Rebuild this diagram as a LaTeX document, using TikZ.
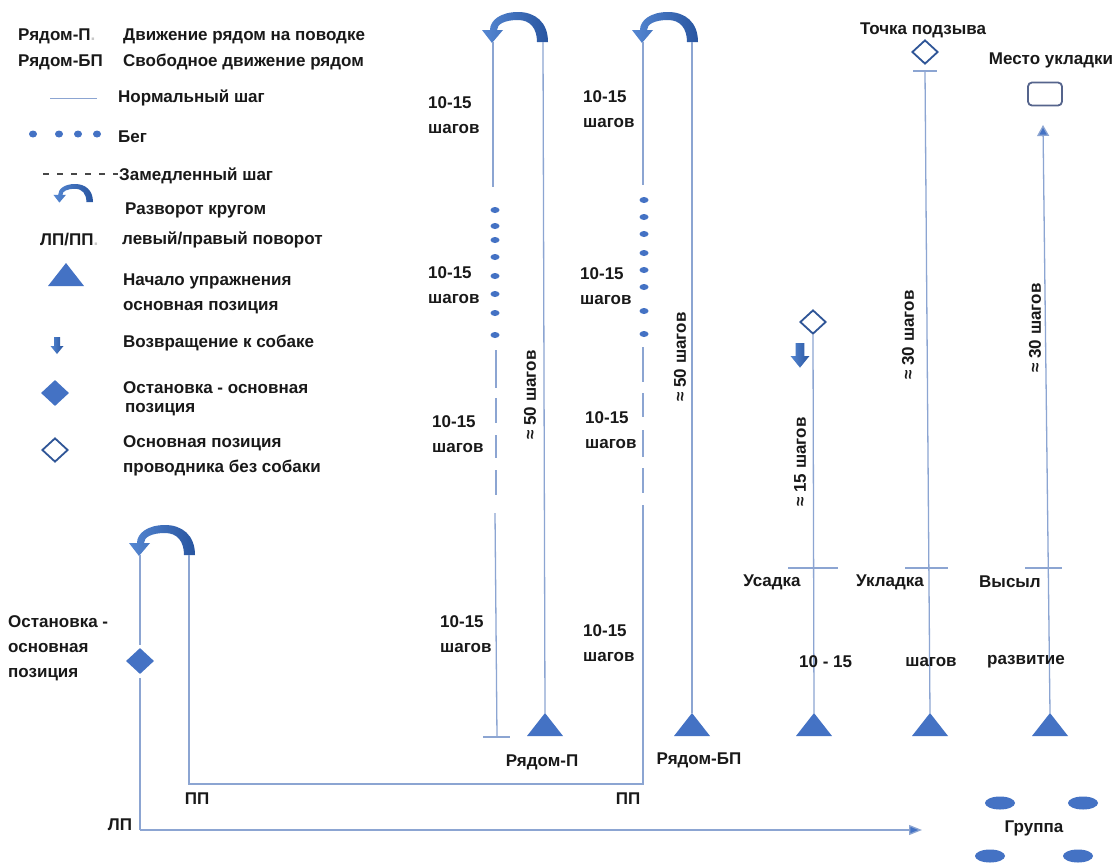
\documentclass[tikz,border=0pt]{standalone}
\usepackage{fontspec}
\setmainfont{Liberation Sans}
\usetikzlibrary{shapes.geometric,arrows.meta}
\definecolor{lineblue}{RGB}{140,165,210}
\definecolor{fillblue}{RGB}{68,114,196}
\definecolor{darkblue}{RGB}{47,85,151}
\definecolor{textcol}{RGB}{25,25,25}
\definecolor{boxcol}{RGB}{85,100,140}
\definecolor{faint}{RGB}{200,200,200}
\definecolor{shadeA}{RGB}{85,135,210}
\definecolor{shadeB}{RGB}{40,85,160}
\newcommand\mytri[1]{\fill[fillblue] (#1) -- ++(18,23) -- ++(-36,0) -- cycle;}
\begin{document}
\begin{tikzpicture}[x=1pt,y=-1pt,
  ln/.style={draw=lineblue,line width=1.3pt},
  txt/.style={font=\fontsize{17}{25}\selectfont\bfseries, text=textcol, inner sep=0pt, anchor=west, align=left},
  vtxt/.style={font=\fontsize{17}{20}\selectfont\bfseries, text=textcol, inner sep=0pt, rotate=90},
  ctxt/.style={font=\fontsize{17}{20}\selectfont\bfseries, text=textcol, inner sep=0pt},
  rundot/.style={ellipse, fill=fillblue, minimum width=9pt, minimum height=6pt, inner sep=0pt},
  fdiam/.style={diamond, fill=fillblue, minimum width=28pt, minimum height=26pt, inner sep=0pt},
  odiam/.style={diamond, draw=darkblue, fill=white, line width=1.8pt, minimum width=26pt, minimum height=24pt, inner sep=0pt},
  grp/.style={ellipse, fill=fillblue, minimum width=30pt, minimum height=13pt, inner sep=0pt},
  uturn/.pic={\shade[left color=shadeA, right color=shadeB] (55,0) .. controls (55,-20) and (42,-30) .. (25,-30) .. controls (8,-30) and (-3,-22) .. (-3,-12) -- (-11,-12) -- (-1,1) -- (10,-12) -- (4,-12) .. controls (4,-18) and (12,-22) .. (25,-22) .. controls (37,-22) and (44,-14) .. (44,0) -- cycle;},
  darrow/.pic={\shade[left color=shadeA, right color=shadeB] (-3,0) -- (3,0) -- (3,9) -- (6.5,9) -- (0,17) -- (-6.5,9) -- (-3,9) -- cycle;}
]
\useasboundingbox[fill=white] (0,0) rectangle (1120,863);

% ---------------- legend ----------------
\node[txt] (lg1) at (18,36) {Рядом-П{\color{faint}.}};
\node[txt] (lg1t) at (123,36) {Движение рядом на поводке};
\node[txt] (lg2) at (18,62) {Рядом-БП};
\node[txt] (lg2t) at (123,62) {Свободное движение рядом};
\coordinate (lgla) at (50,98); \coordinate (lglb) at (97,98);
\draw[ln,line width=1pt] (lgla) -- (lglb);
\node[txt] (lg3t) at (118,98) {Нормальный шаг};
\foreach \i/\x in {1/33,2/59,3/78,4/97} \node[rundot,minimum width=8pt,minimum height=7pt] (lgd\i) at (\x,134) {};
\node[txt] (lg4t) at (118,137) {Бег};
\coordinate (lgda) at (43,174); \coordinate (lgdb) at (118,174);
\draw[draw=textcol!80,line width=1.2pt,dash pattern=on 6pt off 8pt] (lgda) -- (lgdb);
\node[txt] (lg5t) at (119,176) {Замедленный шаг};
\pic[scale=0.6] at (60,202) {uturn};
\node[txt] (lg6t) at (125,210) {Разворот кругом};
\node[txt] (lg7) at (40,240) {ЛП/ПП{\color{faint}.}};
\node[txt] (lg7t) at (122,240) {левый/правый поворот};
\coordinate (lgtri) at (66,263); \mytri{lgtri}
\node[txt] (lg8t) at (123,293.5) {Начало упражнения\\основная позиция};
\pic at (57,337) {darrow};
\node[txt] (lg9t) at (123,343) {Возвращение к собаке};
\node[fdiam] (lgfd) at (55,393) {};
\node[txt] (lg10t) at (123,388) {Остановка - основная};
\node[txt] (lg10t2) at (125,410) {позиция};
\node[odiam] (lgod) at (55,450) {};
\node[txt] (lg11t) at (123,456) {Основная позиция\\проводника без собаки};

% ---------------- column 1: Рядом-П ----------------
\coordinate (t1) at (545,713); \mytri{t1}
\coordinate (u1r) at (543,42); \coordinate (u1l) at (493,42);
\pic at (u1l) {uturn};
\draw[ln] (t1) -- (u1r);
\coordinate (c1a) at (493,187);
\draw[ln] (u1l) -- (c1a);
\foreach \i/\y in {1/210,2/226,3/240,4/257,5/276,6/294,7/313,8/335} \node[rundot] (d1\i) at (495,\y) {};
\foreach \i/\a/\b in {1/350/388,2/398/423,3/435/458,4/470/495} {
  \coordinate (e1a\i) at (496,\a); \coordinate (e1b\i) at (496,\b);
  \draw[ln] (e1a\i) -- (e1b\i);}
\coordinate (c1s) at (495,513); \coordinate (c1b) at (497,737);
\draw[ln] (c1s) -- (c1b);
\coordinate (c1k1) at (483,737); \coordinate (c1k2) at (510,737);
\draw[ln] (c1k1) -- (c1k2);
\node[txt] (l11) at (428,115) {10-15\\шагов};
\node[txt] (l12) at (428,285.5) {10-15\\шагов};
\node[txt] (l13) at (432,434.5) {10-15\\шагов};
\node[txt] (l14) at (440,634.5) {10-15\\шагов};
\node[vtxt] (v1) at (530,395) {≈ 50 шагов};
\node[ctxt] (n1) at (542,762) {Рядом-П};

% ---------------- column 2: Рядом-БП ----------------
\coordinate (t2) at (692,713); \mytri{t2}
\coordinate (u2r) at (692,42); \coordinate (u2l) at (643,42);
\pic at (u2l) {uturn};
\draw[ln] (t2) -- (u2r);
\coordinate (c2a) at (643,185);
\draw[ln] (u2l) -- (c2a);
\foreach \i/\y in {1/200,2/217,3/234,4/253,5/270,6/287,7/311,8/334} \node[rundot] (d2\i) at (644,\y) {};
\foreach \i/\a/\b in {1/347/382,2/393/417,3/430/457,4/468/493} {
  \coordinate (e2a\i) at (643,\a); \coordinate (e2b\i) at (643,\b);
  \draw[ln] (e2a\i) -- (e2b\i);}
\coordinate (c2s) at (643,505);
\coordinate (pp1) at (643,784); \coordinate (pp2) at (189,784);
\coordinate (u3r) at (189,555); \coordinate (u3l) at (140,555);
\pic at (u3l) {uturn};
\node[fdiam] (stop) at (140,661) {};
\coordinate (lp) at (140,830); \coordinate (grp) at (922,830);
\draw[ln] (c2s) -- (pp1) -- (pp2) -- (u3r);
\draw[ln] (u3l) -- ([yshift=3pt]stop.north);
\draw[ln] ([yshift=-4pt]stop.south) -- (lp);
\draw[ln,-{Triangle[length=13pt,width=10pt,fill=fillblue]}] (lp) -- (grp);
\node[txt] (l21) at (583,109.5) {10-15\\шагов};
\node[txt] (l22) at (580,286.5) {10-15\\шагов};
\node[txt] (l23) at (585,430.5) {10-15\\шагов};
\node[txt] (l24) at (583,643.5) {10-15\\шагов};
\node[vtxt] (v2) at (680,357) {≈ 50 шагов};
\node[ctxt] (n2) at (699,760) {Рядом-БП};
\node[ctxt] (ppa) at (628,799) {ПП};
\node[ctxt] (ppb) at (197,799) {ПП};
\node[ctxt] (lpa) at (120,825) {ЛП};
\node[txt] (stopt) at (8,648) {Остановка -\\основная\\позиция};

% ---------------- column 3: Усадка ----------------
\node[odiam] (od3) at (813,322) {};
\coordinate (t3) at (814,713); \mytri{t3}
\draw[ln] (od3.south) -- (t3);
\pic[scale=1.45] at (800,343) {darrow};
\coordinate (k3a) at (788,568); \coordinate (k3b) at (838,568);
\draw[ln] (k3a) -- (k3b);
\node[vtxt] (v3) at (800,462) {≈ 15 шагов};
\node[ctxt] (us) at (772,582) {Усадка};

% ---------------- column 4: Укладка ----------------
\node[odiam] (od4) at (925,52) {};
\node[ctxt] (tp) at (923,30) {Точка подзыва};
\coordinate (k4) at (925,71);
\coordinate (k4a) at (913,71); \coordinate (k4b) at (937,71);
\draw[ln] (k4a) -- (k4b);
\coordinate (t4) at (930,713); \mytri{t4}
\draw[ln] (k4) -- (t4);
\coordinate (k5a) at (905,568); \coordinate (k5b) at (948,568);
\draw[ln] (k5a) -- (k5b);
\node[vtxt] (v4) at (908,335) {≈ 30 шагов};
\node[ctxt] (uk) at (890,582) {Укладка};

% ---------------- column 5: Высыл ----------------
\node[draw=boxcol, line width=1.8pt, rounded corners=4pt, minimum width=34pt, minimum height=23pt, inner sep=0pt] (box) at (1045,94) {};
\node[ctxt] (mu) at (1051,60) {Место укладки};
\coordinate (t5) at (1050,713); \mytri{t5}
\coordinate (a5) at (1043,125);
\draw[ln,-{Triangle[length=11pt,width=12pt,fill=fillblue]}] (t5) -- (a5);
\coordinate (k6a) at (1025,568); \coordinate (k6b) at (1062,568);
\draw[ln] (k6a) -- (k6b);
\node[vtxt] (v5) at (1035,328) {≈ 30 шагов};
\node[ctxt] (vy) at (1010,582) {Высыл};

\node[txt] (r1) at (799,662) {10 - 15};
\node[ctxt] (r2) at (931,662) {шагов};
\node[ctxt] (r3) at (1026,662) {развитие};

% ---------------- group ----------------
\node[grp] (g1) at (1000,803) {};
\node[grp] (g2) at (1083,803) {};
\node[grp] (g3) at (990,856) {};
\node[grp] (g4) at (1078,856) {};
\node[ctxt] (gt) at (1034,828) {Группа};
\end{tikzpicture}
\end{document}
